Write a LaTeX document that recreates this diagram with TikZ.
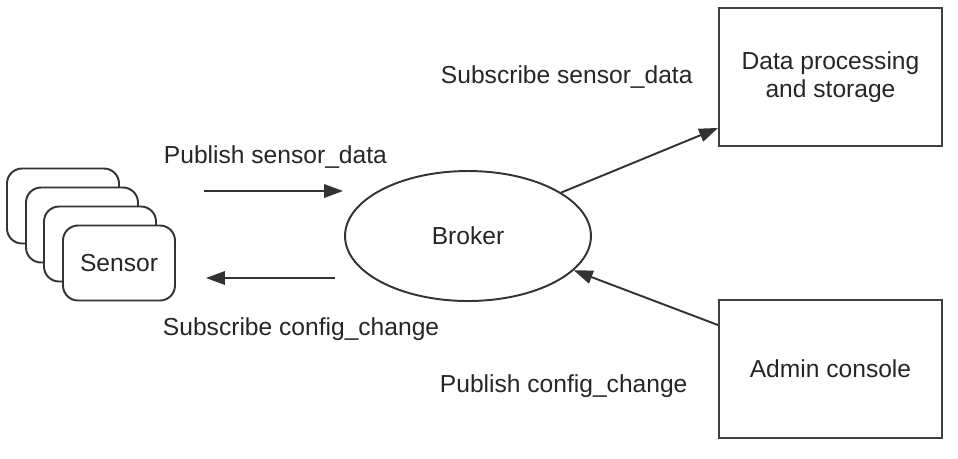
\documentclass[tikz,border=0pt]{standalone}
\usepackage{fontspec}
\setmainfont{Liberation Sans}
\usepackage{tikz}
\usetikzlibrary{arrows.meta,positioning,shapes.geometric}

\begin{document}
\begin{tikzpicture}[x=0.02cm,y=-0.02cm,font=\fontsize{14}{16}\selectfont,
 >={Triangle[length=3.8mm,width=2.7mm]},
 line width=1.1pt,draw=black!80,text=black!85,
 box/.style={draw=black!75,minimum width=4.46cm,minimum height=2.76cm,align=center},
 card/.style={draw=black!80,fill=white,rounded corners=0.3cm,minimum width=2.24cm,minimum height=1.5cm},
 lbl/.style={inner sep=0,anchor=base west},
 arr/.style={->,draw=black!80}]
\useasboundingbox (0,0) rectangle (958,458);
% sensor stack, back to front
\node[card] (sensorD) at (63,206) {};
\node[card] (sensorC) at (82,225) {};
\node[card] (sensorB) at (100,244) {};
\node[card] (sensor) at (119,263) {Sensor};
\node[ellipse,draw,minimum width=4.92cm,minimum height=2.6cm,inner sep=0] (broker) at (468,236) {Broker};
\node[box] (data) at (830.5,77) {Data processing\\and storage};
\node[box] (admin) at (830.5,369) {Admin console};
% free arrow ends between sensors and broker
\coordinate (pubA) at (204,191);
\coordinate (pubB) at (343,191);
\coordinate (subA) at (335,278);
\coordinate (subB) at (206,278);
\node[lbl] (pubLbl) at (163,163) {Publish sensor\_data};
\node[lbl] (subLbl) at (162,335) {Subscribe config\_change};
\node[lbl] (dataLbl) at (440,83) {Subscribe sensor\_data};
\node[lbl] (adminLbl) at (439,392) {Publish config\_change};
\draw[arr] (pubA) -- (pubB);
\draw[arr] (subA) -- (subB);
\draw[arr] (broker.25) -- ([yshift=0.38cm]data.south west);
\draw[arr] ([yshift=-0.52cm]admin.north west) -- (broker.-18);
\end{tikzpicture}
\end{document}
